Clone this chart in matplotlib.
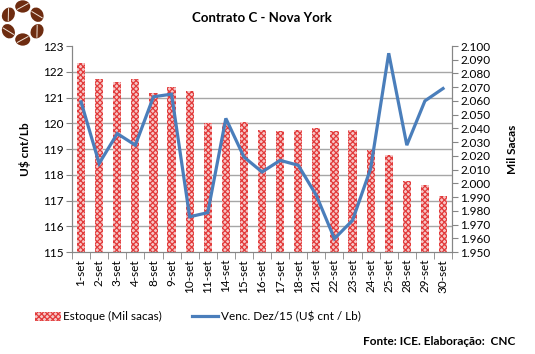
import numpy as np
import matplotlib
matplotlib.use("Agg")
import matplotlib.pyplot as plt
import matplotlib.patches as mpatches
import matplotlib.lines as mlines
from matplotlib.ticker import FuncFormatter, MultipleLocator

plt.rcParams['font.family'] = ['Lato', 'DejaVu Sans']
plt.rcParams['hatch.linewidth'] = 0.9

# ---------------- data ----------------
dias = ["1-set", "2-set", "3-set", "4-set", "8-set", "9-set", "10-set", "11-set",
        "14-set", "15-set", "16-set", "17-set", "18-set", "21-set", "22-set",
        "23-set", "24-set", "25-set", "28-set", "29-set", "30-set"]

# estoque certificado, mil sacas (eixo direito)
estoque = [2088, 2076, 2074, 2076, 2066, 2070, 2067, 2044, 2044, 2045, 2039,
           2038, 2039, 2040, 2038, 2039, 2024, 2021, 2002, 1999, 1991]

# venc. dez/15, U$ cnt/lb (eixo esquerdo)
preco = [120.83, 118.44, 119.60, 119.15, 121.03, 121.13, 116.37, 116.53,
         120.19, 118.69, 118.11, 118.56, 118.37, 117.20, 115.52, 116.23,
         118.24, 122.72, 119.15, 120.87, 121.35]

grey = '#868686'
bar_face = '#f6c6c6'
bar_hatch = '#e23a3a'
azul = '#4a7ebb'

fig = plt.figure(figsize=(5.35, 3.54), dpi=100)
ax_b = fig.add_axes([0.1346, 0.288, 0.7104, 0.582])   # barras, eixo direito
ax_l = ax_b.twinx()                                    # linha, eixo esquerdo

x = np.arange(len(dias))

# bars
ax_b.bar(x, estoque, width=0.45, color=bar_face, edgecolor=bar_hatch,
         linewidth=0, hatch='xxxxxx', zorder=2)
ax_b.set_ylim(1950, 2100)
ax_b.set_xlim(-0.5, len(dias) - 0.5)
ax_b.yaxis.tick_right()
ax_b.yaxis.set_label_position('right')
ax_b.yaxis.set_major_locator(MultipleLocator(10))
ax_b.yaxis.set_major_formatter(FuncFormatter(lambda v, p: "{:,}".format(int(round(v))).replace(",", ".")))
# gridlines at the left axis ticks
ax_b.set_yticks(np.linspace(1950, 2100, 9), minor=True)
ax_b.grid(which='minor', axis='y', color='#a6a6a6', linewidth=1.0, zorder=0)
ax_b.set_axisbelow(True)
ax_b.tick_params(axis='y', which='minor', length=0)
ax_b.tick_params(axis='y', which='major', length=4, color=grey, labelsize=8.5, pad=2)
ax_b.set_ylabel("Mil Sacas", fontsize=8.5, fontweight='bold', labelpad=12)

# x axis: labels at centers, tick marks between categories
ax_b.set_xticks(x)
ax_b.set_xticklabels(dias, rotation=90, fontsize=8.5)
ax_b.set_xticks(np.arange(-0.5, len(dias)), minor=True)
ax_b.tick_params(axis='x', which='major', length=0, pad=5)
ax_b.tick_params(axis='x', which='minor', length=5, color=grey)

# line
ax_l.plot(x, preco, color=azul, linewidth=2.3, solid_joinstyle='miter', zorder=3)
ax_l.set_ylim(115, 123)
ax_l.yaxis.tick_left()
ax_l.yaxis.set_label_position('left')
ax_l.yaxis.set_major_locator(MultipleLocator(1))
ax_l.tick_params(axis='y', length=4, color=grey, labelsize=8.5, pad=2)
ax_l.set_ylabel("U$ cnt/Lb", fontsize=8.5, fontweight='bold', labelpad=9)

for a in (ax_b, ax_l):
    a.spines['top'].set_visible(False)
    for s in ('left', 'right', 'bottom'):
        a.spines[s].set_color(grey)

fig.text(0.49, 0.948, "Contrato C - Nova York", ha='center', va='center',
         fontsize=9.5, fontweight='bold')

# legend
h_bar = mpatches.Patch(facecolor=bar_face, edgecolor=bar_hatch, linewidth=0, hatch='xxxxxx')
h_lin = mlines.Line2D([], [], color=azul, linewidth=2.3)
fig.legend([h_bar, h_lin], ["Estoque (Mil sacas)", "Venc. Dez/15 (U$ cnt / Lb)"],
           loc='center left', bbox_to_anchor=(0.045, 0.105), ncol=2, frameon=False,
           fontsize=8.5, handlelength=2.2, handletextpad=0.2, columnspacing=2.6,
           handleheight=0.8)

fig.text(0.963, 0.035, "Fonte: ICE. Elaboração:  CNC", ha='right', va='center',
         fontsize=8.5, fontweight='bold')

# logo: ring of coffee beans
ax_logo = fig.add_axes([0.0, 0.86, 0.09, 0.14])
ax_logo.set_xlim(-1.51, 1.69)
ax_logo.set_ylim(-1.77, 1.53)
ax_logo.axis('off')
for k in range(6):
    ang = np.pi / 2 + k * np.pi / 3
    cx, cy = 1.1 * np.cos(ang), 1.1 * np.sin(ang)
    ax_logo.add_patch(mpatches.Ellipse((cx, cy), 1.0, 0.82, angle=np.degrees(ang) - 90,
                                       facecolor='#6e2c10', edgecolor='none'))
    t = ang + np.pi / 2 + 0.5
    d = 0.4
    ax_logo.plot([cx - d * np.cos(t), cx + d * np.cos(t)],
                 [cy - d * np.sin(t), cy + d * np.sin(t)],
                 color='#f3e6da', linewidth=0.7)

plt.savefig('out.png', dpi=100)
plt.close()
